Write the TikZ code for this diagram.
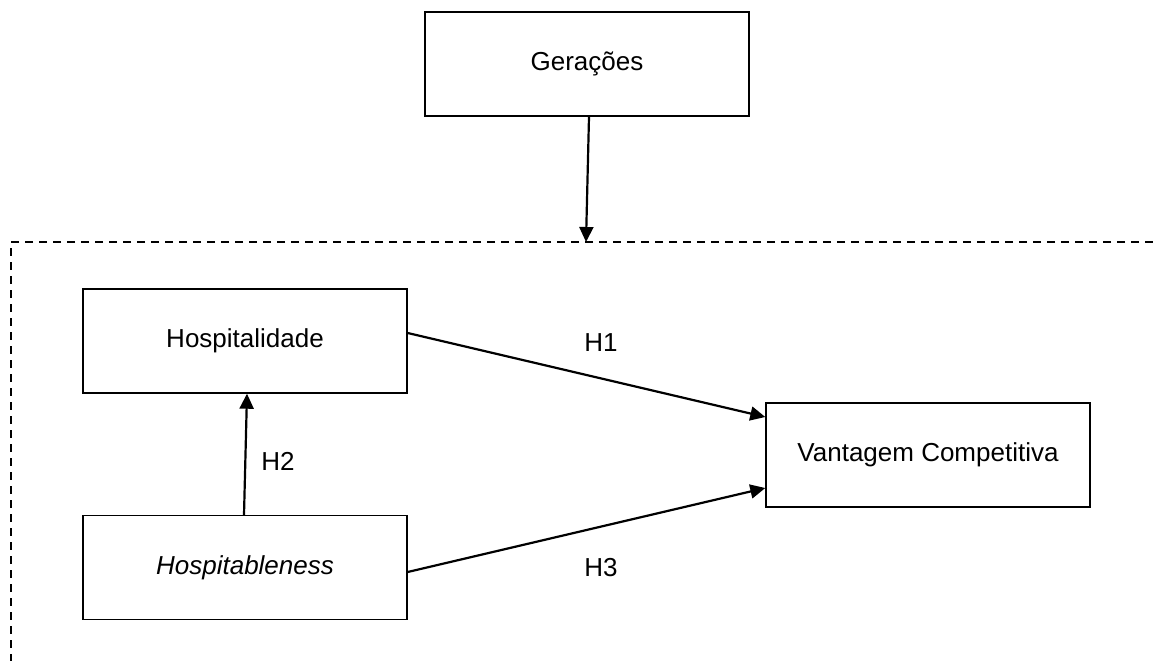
\documentclass[tikz,border=0pt]{standalone}
\usepackage{fontspec}
\setmainfont{Liberation Sans}
\usetikzlibrary{arrows.meta}
\begin{document}
\begin{tikzpicture}[x=1pt,y=-1pt,
  font=\fontsize{26}{30}\selectfont,
  box/.style={draw, line width=1.4pt, minimum width=324pt, minimum height=104pt, inner sep=0pt},
  link/.style={line width=2.2pt, -{Triangle[length=15pt,width=14pt]}},
  frame/.style={line width=1.4pt, dash pattern=on 8pt off 6pt},
  lbl/.style={inner sep=0pt}]
  \useasboundingbox (0,0) rectangle (1153,661);

  % variable boxes
  \node[box] (ger)  at (587,64)    {Gerações};
  \node[box] (hosp) at (245,341)   {Hospitalidade};
  \node[box] (hab)  at (245,567.5) {\itshape Hospitableness};
  \node[box] (vant) at (928,455)   {Vantagem Competitiva};

  % dashed frame enclosing the moderated model
  \coordinate (fr) at (1153,242);
  \coordinate (fc) at (11,242);
  \coordinate (fb) at (11,661);
  \coordinate (gt) at (586,242);
  \draw[frame] (fr) -- (fc) -- (fb);

  % connectors
  \draw[link] ([xshift=2pt]ger.south) -- (gt);
  \draw[link] ([yshift=8pt]hosp.east) -- ([yshift=38pt]vant.west);
  \draw[link] ([yshift=-4.5pt]hab.east) -- ([yshift=-33pt]vant.west);
  \draw[link] ([xshift=-1pt]hab.north) -- ([xshift=2pt]hosp.south);

  % hypothesis labels
  \node[lbl] (h1) at (601,343) {H1};
  \node[lbl] (h2) at (278,461) {H2};
  \node[lbl] (h3) at (601,568) {H3};
\end{tikzpicture}
\end{document}
